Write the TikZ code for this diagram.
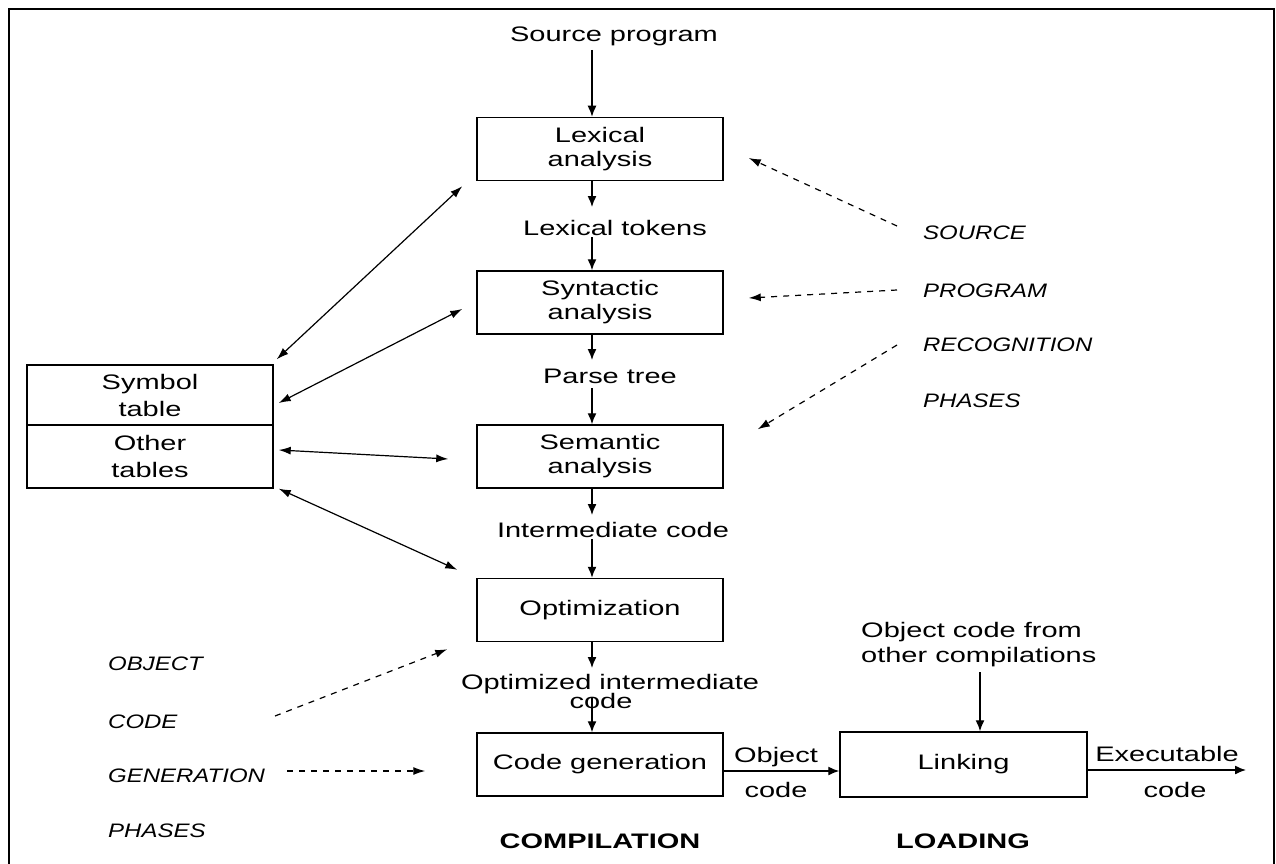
\documentclass[tikz,border=0pt]{standalone}
\usepackage{fontspec}
\setmainfont{Liberation Sans}[FakeStretch=1.38]
\newfontfamily\slfont{Liberation Sans}[FakeStretch=1.23]
\usetikzlibrary{arrows.meta}
\begin{document}
\begin{tikzpicture}[x=1pt,y=-1pt,
  txt/.style={font=\fontsize{21}{24}\selectfont, inner sep=0pt, anchor=base},
  ital/.style={font=\slfont\itshape\fontsize{19.5}{22}\selectfont, inner sep=0pt, anchor=base west},
  boldlbl/.style={font=\bfseries\fontsize{21}{24}\selectfont, inner sep=0pt, anchor=base},
  box/.style={draw, line width=1.5pt, minimum width=246pt, minimum height=63pt, align=center, inner sep=0pt, font=\fontsize{21}{24}\selectfont},
  tbl/.style={draw, line width=1.4pt, minimum width=246pt, align=center, inner sep=0pt, font=\fontsize{21}{27}\selectfont},
  flow/.style={line width=1.4pt, -{Latex[length=11pt,width=9pt]}},
  both/.style={line width=1.2pt, {Latex[length=12pt,width=8pt]}-{Latex[length=12pt,width=8pt]}},
  dsh/.style={line width=1.2pt, dash pattern=on 6pt off 6pt, -{Latex[length=12pt,width=8pt]}},
  frame/.style={line width=2pt}
]
\useasboundingbox (0,0) rectangle (1276,864);
\draw[frame] (9,864) -- (9,9) -- (1274,9) -- (1274,864);

% main column boxes
\node[box] (lex) at (600,149) {Lexical\\analysis};
\node[box] (syn) at (600,302.5) {Syntactic\\analysis};
\node[box] (sem) at (600,456.5) {Semantic\\analysis};
\node[box] (opt) at (600,610) {Optimization};
\node[box] (gen) at (600,764.5) {Code generation};
\node[box, minimum width=247pt, minimum height=65pt] (link) at (963.5,764.5) {Linking};

% tables
\node[tbl, minimum height=60pt] (sym) at (150,395) {Symbol\\table};
\node[tbl, minimum height=63pt] (oth) at (150,456.5) {Other\\tables};

% labels
\node[txt] (src) at (614,42) {Source program};
\node[txt] (tok) at (615,235) {Lexical tokens};
\node[txt] (prs) at (610,383) {Parse tree};
\node[txt] (imc) at (613,537) {Intermediate code};
\node[txt] (oim) at (610,689) {Optimized intermediate};
\node[txt] (oimc) at (601,708) {code};
\node[txt] (obj) at (776,762) {Object};
\node[txt] (objc) at (776,797) {code};
\node[txt, anchor=base west] (ocf) at (861,637) {Object code from};
\node[txt, anchor=base west] (occ) at (861,662) {other compilations};
\node[txt] (exe) at (1167,761) {Executable};
\node[txt] (exec) at (1175,797) {code};
\node[boldlbl] (comp) at (600,848) {COMPILATION};
\node[boldlbl] (load) at (963,848) {LOADING};

% italic phase labels
\node[ital] (rs1) at (923,239) {SOURCE};
\node[ital] (rs2) at (923,297) {PROGRAM};
\node[ital] (rs3) at (923,351) {RECOGNITION};
\node[ital] (rs4) at (923,407) {PHASES};
\node[ital] (ls1) at (108,670) {OBJECT};
\node[ital] (ls2) at (108,728) {CODE};
\node[ital] (ls3) at (108,782) {GENERATION};
\node[ital] (ls4) at (108,837) {PHASES};

% coordinates for free ends
\coordinate (ax) at (592,0);
\coordinate (s0) at (592,50);
\coordinate (t1) at (592,207);
\coordinate (t2) at (592,237);
\coordinate (p1) at (592,360);
\coordinate (p2) at (592,388);
\coordinate (i1) at (592,515);
\coordinate (i2) at (592,539);
\coordinate (o1) at (592,668);
\coordinate (o2) at (592,698);
\coordinate (oc) at (980,672);
\coordinate (oe) at (1246,770);

% main flow
\draw[flow] (s0) -- (lex.north -| ax);
\draw[flow] (lex.south -| ax) -- (t1);
\draw[flow] (t2) -- (syn.north -| ax);
\draw[flow] (syn.south -| ax) -- (p1);
\draw[flow] (p2) -- (sem.north -| ax);
\draw[flow] (sem.south -| ax) -- (i1);
\draw[flow] (i2) -- (opt.north -| ax);
\draw[flow] (opt.south -| ax) -- (o1);
\draw[flow] (o2) -- (gen.north -| ax);
\draw[flow] ([yshift=-6.5pt]gen.east) -- ([yshift=-6.5pt]link.west);
\draw[flow] (oc) -- (link.north -| oc);
\draw[flow] ([yshift=-5.5pt]link.east) -- (oe);

% table connections
\draw[both] ([shift={(3,-5)}]sym.north east) -- ([shift={(-14,5)}]lex.south west);
\draw[both] ([shift={(5,8)}]sym.east) -- ([shift={(-14,6.5)}]syn.west);
\draw[both] ([shift={(5,-6.5)}]oth.east) -- ([shift={(-28,2.5)}]sem.west);
\draw[both] ([shift={(5,0)}]oth.south east) -- ([shift={(-19,-8)}]opt.north west);

% dashed phase arrows
\draw[dsh] ([shift={(-26,-13)}]rs1.base west) -- ([shift={(25,9)}]lex.east);
\draw[dsh] ([shift={(-26,-7)}]rs2.base west) -- ([shift={(25,-4.5)}]syn.east);
\draw[dsh] ([shift={(-26,-6)}]rs3.base west) -- ([shift={(34,5)}]sem.north east);
\draw[dsh] ([shift={(167,-12)}]ls2.base west) -- ([shift={(-29,7)}]opt.south west);
\draw[dsh] ([shift={(179,-11)}]ls3.base west) -- ([shift={(-51,6.5)}]gen.west);
\end{tikzpicture}
\end{document}
